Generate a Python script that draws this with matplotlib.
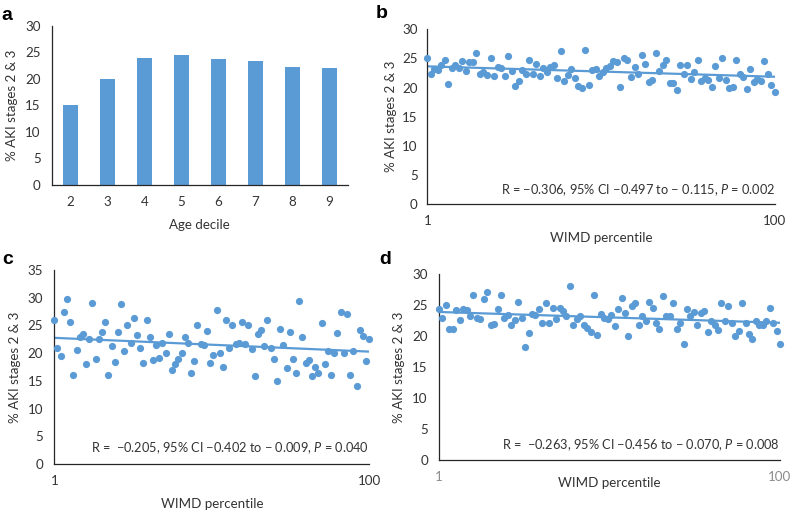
import numpy as np
import matplotlib
matplotlib.use("Agg")
import matplotlib.pyplot as plt

# Panel a: AKI by age decile
age_deciles = ["2", "3", "4", "5", "6", "7", "8", "9"]
aki_by_age = [15.1, 20.0, 23.9, 24.5, 23.8, 23.4, 22.3, 22.0]

# Panels b-d: AKI by WIMD percentile (1..100)
wimd_pct = np.arange(1, 101)
aki_b = [25.0, 22.3, 23.1, 23.0, 23.9, 24.7, 20.6, 23.4, 23.9, 23.3,
         24.6, 22.9, 24.4, 24.3, 26.0, 22.4, 22.7, 22.2, 25.0, 22.0,
         23.6, 23.4, 22.0, 25.5, 22.8, 20.3, 21.2, 23.0, 22.3, 24.8,
         22.3, 24.0, 22.0, 23.3, 22.7, 23.6, 23.9, 21.6, 26.2, 21.1,
         22.2, 23.1, 21.6, 20.3, 20.0, 26.4, 20.4, 23.0, 23.2, 22.0,
         22.7, 23.3, 23.7, 24.6, 24.3, 20.1, 25.0, 24.8, 21.8, 23.6,
         22.3, 25.6, 24.0, 20.9, 21.3, 26.0, 22.9, 23.9, 24.8, 20.7,
         20.8, 19.6, 23.8, 22.4, 23.9, 21.4, 22.6, 24.8, 21.1, 21.6,
         21.3, 20.1, 23.7, 21.6, 25.0, 21.3, 20.0, 20.1, 24.7, 22.3,
         21.8, 19.7, 23.1, 21.0, 21.4, 21.1, 24.5, 22.3, 20.4, 19.3]
aki_c = [26.0, 21.0, 19.4, 27.5, 29.8, 25.6, 16.1, 20.6, 23.0, 23.4,
         18.1, 22.5, 29.0, 18.9, 22.6, 23.9, 25.6, 16.1, 21.2, 18.4,
         23.8, 28.8, 20.3, 25.0, 21.9, 26.3, 23.2, 20.9, 18.3, 26.0,
         22.9, 18.8, 21.5, 19.1, 21.9, 20.1, 23.4, 17.0, 18.1, 18.9,
         20.0, 22.9, 21.8, 16.5, 18.5, 25.0, 21.6, 21.4, 24.0, 18.2,
         19.7, 27.8, 20.0, 17.5, 25.9, 20.9, 25.0, 21.7, 21.8, 25.6,
         21.7, 25.0, 20.7, 15.8, 23.4, 24.1, 21.3, 26.0, 21.0, 18.9,
         15.0, 24.3, 21.4, 17.4, 23.8, 18.9, 16.4, 29.4, 22.9, 18.2,
         18.8, 15.9, 17.5, 16.5, 25.5, 18.0, 20.4, 16.1, 20.0, 23.7,
         27.4, 20.0, 27.1, 16.1, 20.3, 14.0, 24.1, 23.1, 18.6, 22.5]
aki_d = [24.4, 22.9, 25.0, 21.1, 21.1, 24.3, 22.6, 24.4, 24.2, 23.2,
         26.6, 23.0, 22.8, 26.0, 27.1, 21.8, 22.0, 24.4, 26.6, 23.0,
         23.5, 21.8, 22.6, 25.5, 23.0, 18.3, 20.5, 23.6, 23.5, 24.4,
         22.2, 25.3, 22.2, 24.6, 22.8, 24.6, 24.0, 23.3, 28.1, 21.8,
         22.7, 23.2, 21.8, 21.3, 20.6, 26.7, 20.2, 23.6, 23.0, 22.8,
         23.4, 21.7, 24.4, 26.1, 23.8, 20.1, 24.9, 25.4, 21.8, 23.3,
         22.4, 25.6, 24.6, 22.1, 21.1, 26.5, 23.3, 23.3, 25.3, 21.1,
         22.2, 18.7, 24.4, 23.3, 23.9, 21.8, 23.7, 24.1, 20.7, 22.5,
         21.8, 21.0, 25.4, 22.4, 24.9, 22.1, 20.0, 20.8, 25.3, 22.1,
         20.4, 19.5, 22.5, 21.8, 21.8, 22.5, 24.6, 22.1, 20.8, 18.8]

stats_b = "R = \u22120.306, 95% CI \u22120.497 to \u2212 0.115, $\\mathit{P}$ = 0.002"
stats_c = "R =  \u22120.205, 95% CI \u22120.402 to \u2212 0.009, $\\mathit{P}$ = 0.040"
stats_d = "R =  \u22120.263, 95% CI \u22120.456 to \u2212 0.070, $\\mathit{P}$ = 0.008"

plt.rcParams["font.family"] = ["Lato", "DejaVu Sans"]
plt.rcParams["mathtext.fontset"] = "custom"
plt.rcParams["mathtext.rm"] = "Lato"
plt.rcParams["mathtext.it"] = "Lato:italic"

blue = "#5B9BD5"
txt = "#333333"
axcol = "#262626"
W, H = 791, 512
fs_tick = 9.6
fs_lab = 9.6
fs_stat = 9.2

fig = plt.figure(figsize=(W / 100, H / 100), dpi=100)


def make_ax(left, right, top, bottom):
    return fig.add_axes([left / W, 1 - bottom / H, (right - left) / W, (bottom - top) / H])


def style(ax, ypad=8):
    for s in ["top", "right"]:
        ax.spines[s].set_visible(False)
    for s in ["left", "bottom"]:
        ax.spines[s].set_color(axcol)
        ax.spines[s].set_linewidth(0.9)
    ax.tick_params(length=0, colors=txt, labelsize=fs_tick)
    ax.tick_params(axis="x", pad=8)
    ax.tick_params(axis="y", pad=ypad)


def scatter_panel(ax, y, ymax, stats, tick_col=txt, ypad=8):
    ax.scatter(wimd_pct, y, s=27, color=blue, clip_on=False, zorder=3, linewidths=0)
    k, b = np.polyfit(wimd_pct, y, 1)
    ax.plot(wimd_pct, k * wimd_pct + b, color=blue, lw=1.6, zorder=2)
    ax.set_xlim(1, 100)
    ax.set_ylim(0, ymax)
    ax.set_xticks([1, 100])
    ax.set_yticks(np.arange(0, ymax + 1, 5))
    style(ax, ypad)
    for t in ax.get_xticklabels():
        t.set_color(tick_col)
    ax.text(1.0, 0.08, stats, transform=ax.transAxes, ha="right", va="center",
            color=txt, fontsize=fs_stat)


def labels(ax, xlab, xoff, yoff, w, h):
    ax.set_xlabel(xlab, color=txt, fontsize=fs_lab)
    ax.xaxis.set_label_coords(0.5, -xoff / h)
    ax.xaxis.label.set_va("center")
    ax.set_ylabel("% AKI stages 2 & 3", color=txt, fontsize=fs_lab)
    ax.yaxis.set_label_coords(-yoff / w, 0.5)
    ax.yaxis.label.set_va("center")


# a
ax = make_ax(51.7, 348, 25.7, 185)
ax.bar(range(len(age_deciles)), aki_by_age, width=0.4, color=blue)
ax.set_xlim(-0.5, len(age_deciles) - 0.5)
ax.set_ylim(0, 30)
ax.set_xticks(range(len(age_deciles)))
ax.set_xticklabels(age_deciles)
ax.set_yticks(np.arange(0, 31, 5))
style(ax)
labels(ax, "Age decile", 40, 40, 296.3, 159.3)

# b
ax = make_ax(427.3, 775, 29.3, 204)
scatter_panel(ax, aki_b, 30, stats_b, ypad=7)
labels(ax, "WIMD percentile", 34, 36, 347.7, 174.7)

# c
ax = make_ax(54.3, 369.3, 270, 464)
scatter_panel(ax, aki_c, 35, stats_c)
labels(ax, "WIMD percentile", 40, 39, 315, 194)

# d
ax = make_ax(439, 780, 274.3, 460)
scatter_panel(ax, aki_d, 30, stats_d, tick_col="#8c8c8c")
labels(ax, "WIMD percentile", 23, 40, 341, 185.7)

# panel letters
for lab, x, y in [("a", 7, 15), ("b", 382, 14), ("c", 7.5, 259), ("d", 385, 259)]:
    fig.text(x / W, 1 - y / H, lab, fontsize=14, fontweight="bold",
             family="Liberation Sans", ha="center", va="center", color="black")

fig.savefig("out.png", dpi=100)
